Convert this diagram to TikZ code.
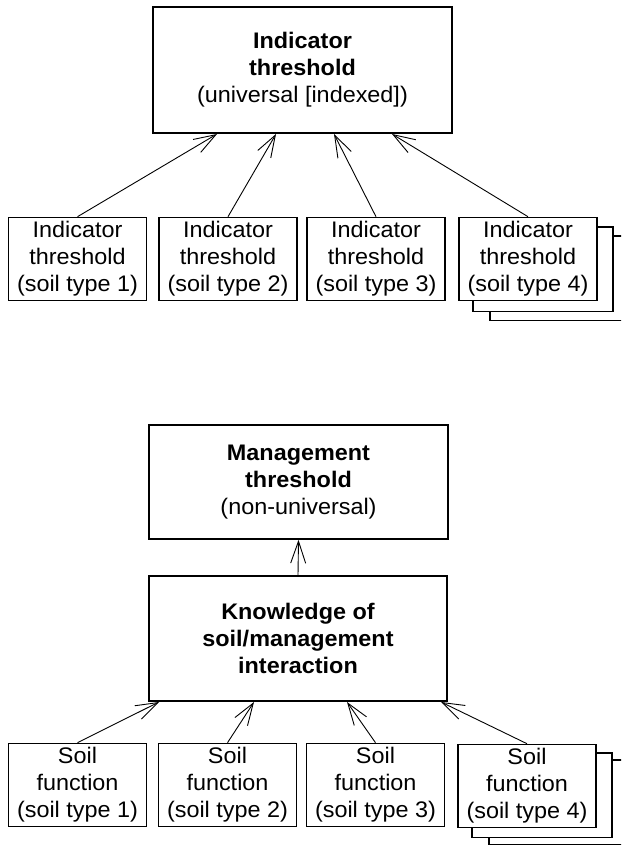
\documentclass[tikz,border=0pt]{standalone}
\usepackage{fontspec}
\setmainfont{Liberation Sans}[FakeStretch=1.04]
\usetikzlibrary{arrows.meta}
\begin{document}
\begin{tikzpicture}[x=1pt,y=-1pt,
  txt/.style={font=\fontsize{22.5}{27}\selectfont, align=center},
  box/.style={txt, draw, line width=1.6pt, fill=white, inner sep=0pt},
  small/.style={box, minimum width=138pt, minimum height=83pt},
  big/.style={box, line width=2pt, minimum width=299pt},
  shadowline/.style={line width=1.6pt, fill=white},
  arr/.style={line width=0.9pt, -{Straight Barb[length=22pt,width=15pt]}}
]
\clip (0,0) rectangle (621,845);
\fill[white] (0,0) rectangle (621,845);

% ---------- upper diagram ----------
\node[big, minimum height=126pt] (top) at (302.5,70)
  {\textbf{Indicator}\\\textbf{threshold}\\(universal [indexed])};

\node[small] (b1) at (77.5,259) {Indicator\\threshold\\(soil type 1)};
\node[small] (b2) at (228,259) {Indicator\\threshold\\(soil type 2)};
\node[small] (b3) at (376,259) {Indicator\\threshold\\(soil type 3)};
\node[small, draw=none, fill=none] (b4pos) at (528,259) {};
\draw[shadowline] ([shift={(32,19)}]b4pos.south west) rectangle ([shift={(32,19)}]b4pos.north east);
\draw[shadowline] ([shift={(15,10)}]b4pos.south west) rectangle ([shift={(15,10)}]b4pos.north east);
\node[small] (b4) at (528,259) {Indicator\\threshold\\(soil type 4)};

\draw[arr] (b1.north) -- ([xshift=65pt]top.south west);
\draw[arr] (b2.north) -- ([xshift=124pt]top.south west);
\draw[arr] (b3.north) -- ([xshift=182pt]top.south west);
\draw[arr] (b4.north) -- ([xshift=240pt]top.south west);

% ---------- lower diagram ----------
\node[big, line width=1.6pt, minimum height=114pt] (mgmt) at (298.5,482)
  {\textbf{Management}\\\textbf{threshold}\\(non-universal)};
\node[big, minimum width=298pt, minimum height=125pt] (know) at (298,638.5)
  {\textbf{Knowledge of}\\\textbf{soil/management}\\\textbf{interaction}};

\node[small] (s1) at (77.5,785) {Soil\\function\\(soil type 1)};
\node[small] (s2) at (227.5,785) {Soil\\function\\(soil type 2)};
\node[small] (s3) at (375.5,785) {Soil\\function\\(soil type 3)};
\node[small, draw=none, fill=none] (s4pos) at (527,786) {};
\draw[shadowline] ([shift={(32,16.5)}]s4pos.south west) rectangle ([shift={(32,16.5)}]s4pos.north east);
\draw[shadowline] ([shift={(15,9)}]s4pos.south west) rectangle ([shift={(15,9)}]s4pos.north east);
\node[small] (s4) at (527,786) {Soil\\function\\(soil type 4)};

\draw[arr] (know.north) -- (mgmt.south);
\draw[arr] (s1.north) -- ([xshift=11pt]know.south west);
\draw[arr] (s2.north) -- ([xshift=106pt]know.south west);
\draw[arr] (s3.north) -- ([xshift=199pt]know.south west);
\draw[arr] (s4.north) -- ([xshift=293pt]know.south west);
\end{tikzpicture}
\end{document}
